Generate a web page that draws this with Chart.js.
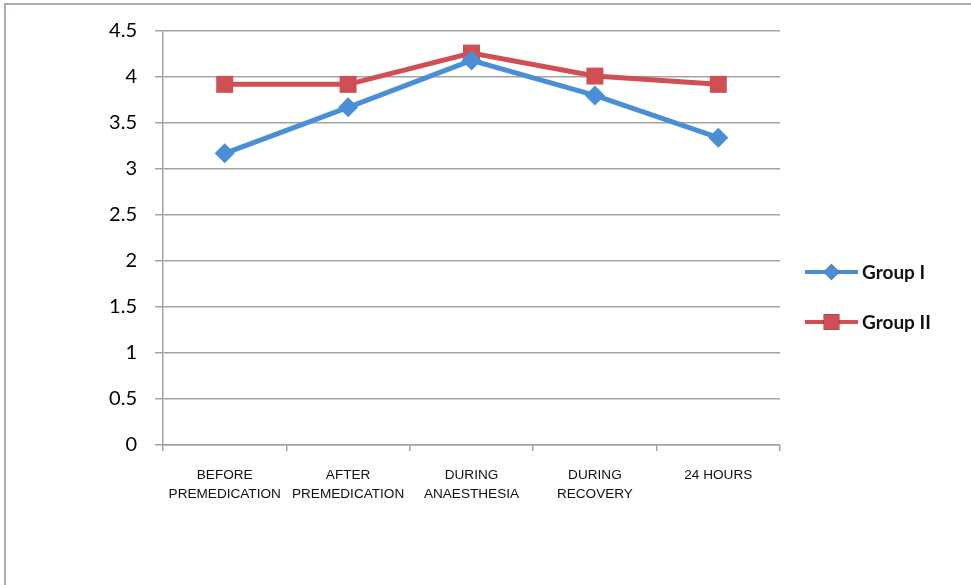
<!DOCTYPE html>
<html>
<head>
<meta charset="utf-8">
<script src="https://cdn.jsdelivr.net/npm/chart.js@4/dist/chart.umd.min.js"></script>
<style>
  html, body { margin: 0; padding: 0; background: #fff; }
  #wrap { position: relative; width: 971px; height: 585px; overflow: hidden; }
  #frame { position: absolute; left: 4px; top: 3px; width: 990px; height: 600px;
           border-left: 2px solid #a9adb8; border-top: 2px solid #a9adb8; pointer-events: none; }
  canvas { position: absolute; left: 0; top: 0; }
</style>
</head>
<body>
<div id="wrap">
  <canvas id="c" width="971" height="585"></canvas>
  <div id="frame"></div>
</div>
<script>
// Time points (two-line labels)
const categories = [
  ['BEFORE', 'PREMEDICATION'],
  ['AFTER', 'PREMEDICATION'],
  ['DURING', 'ANAESTHESIA'],
  ['DURING', 'RECOVERY'],
  '24 HOURS'
];
const seriesNames = ['Group I', 'Group II'];
const groupI = [3.17, 3.67, 4.18, 3.80, 3.34];
const groupII = [3.92, 3.92, 4.26, 4.01, 3.92];
const yTicks = [0, 0.5, 1, 1.5, 2, 2.5, 3, 3.5, 4, 4.5];

const blue = '#4a8fd6';
const red = '#cf4f54';
const gridColor = '#a3a3a3';

// Legend on the right: line with marker, then the series name
const sideLegend = {
  id: 'sideLegend',
  afterDraw(chart) {
    const { ctx, chartArea } = chart;
    const x0 = chartArea.right + 25, x1 = chartArea.right + 78;
    const rows = [chartArea.top + 241, chartArea.top + 291];
    chart.data.datasets.forEach((ds, i) => {
      const y = rows[i];
      ctx.save();
      ctx.strokeStyle = ds.borderColor;
      ctx.lineWidth = 4;
      ctx.beginPath();
      ctx.moveTo(x0, y);
      ctx.lineTo(x1, y);
      ctx.stroke();
      Chart.helpers.drawPoint(ctx, {
        pointStyle: ds.pointStyle,
        radius: ds.pointStyle === 'rect' ? 11 : 8,
        rotation: 0,
        borderWidth: 0
      }, (x0 + x1) / 2, y);
      ctx.fillStyle = ds.pointBackgroundColor;
      ctx.fill();
      ctx.fillStyle = '#111';
      ctx.font = 'bold 19px Lato, "Open Sans", sans-serif';
      ctx.textAlign = 'left';
      ctx.textBaseline = 'middle';
      ctx.fillText(ds.label, x1 + 4, y + 1);
      ctx.restore();
    });
  }
};

new Chart(document.getElementById('c'), {
  type: 'line',
  data: {
    labels: categories,
    datasets: [
      {
        label: seriesNames[0],
        data: groupI,
        borderColor: blue,
        backgroundColor: blue,
        pointBackgroundColor: blue,
        pointBorderColor: blue,
        borderWidth: 5,
        pointStyle: 'rectRot',
        pointRadius: 10,
        pointBorderWidth: 0,
        tension: 0
      },
      {
        label: seriesNames[1],
        data: groupII,
        borderColor: red,
        backgroundColor: red,
        pointBackgroundColor: red,
        pointBorderColor: red,
        borderWidth: 5,
        pointStyle: 'rect',
        pointRadius: 12,
        pointBorderWidth: 0,
        tension: 0
      }
    ]
  },
  options: {
    responsive: false,
    animation: false,
    devicePixelRatio: 1,
    layout: { padding: { left: 0, right: 191, top: 31, bottom: 0 } },
    plugins: {
      legend: { display: false },
      tooltip: { enabled: false }
    },
    scales: {
      x: {
        offset: true,
        afterFit(scale) { scale.height = 140; },
        grid: {
          offset: true,
          drawOnChartArea: false,
          drawTicks: true,
          tickLength: 6,
          color: gridColor,
          lineWidth: 1.5
        },
        border: { color: gridColor, width: 1.5 },
        ticks: {
          padding: 15,
          maxRotation: 0,
          autoSkip: false,
          color: '#111',
          font: { family: '"Liberation Sans Narrow", "Arial Narrow", "Liberation Sans", sans-serif', size: 13.6, lineHeight: 1.4 }
        }
      },
      y: {
        min: 0,
        max: 4.5,
        afterFit(scale) { scale.width = 163; },
        afterBuildTicks(scale) { scale.ticks = yTicks.map(v => ({ value: v })); },
        grid: {
          color: gridColor,
          lineWidth: 1.5,
          tickLength: 8
        },
        border: { color: gridColor, width: 1.5 },
        ticks: {
          padding: 18,
          color: '#000',
          font: { family: 'Lato, "Open Sans", sans-serif', size: 20 },
          callback: v => String(v)
        }
      }
    }
  },
  plugins: [sideLegend]
});
</script>
</body>
</html>
